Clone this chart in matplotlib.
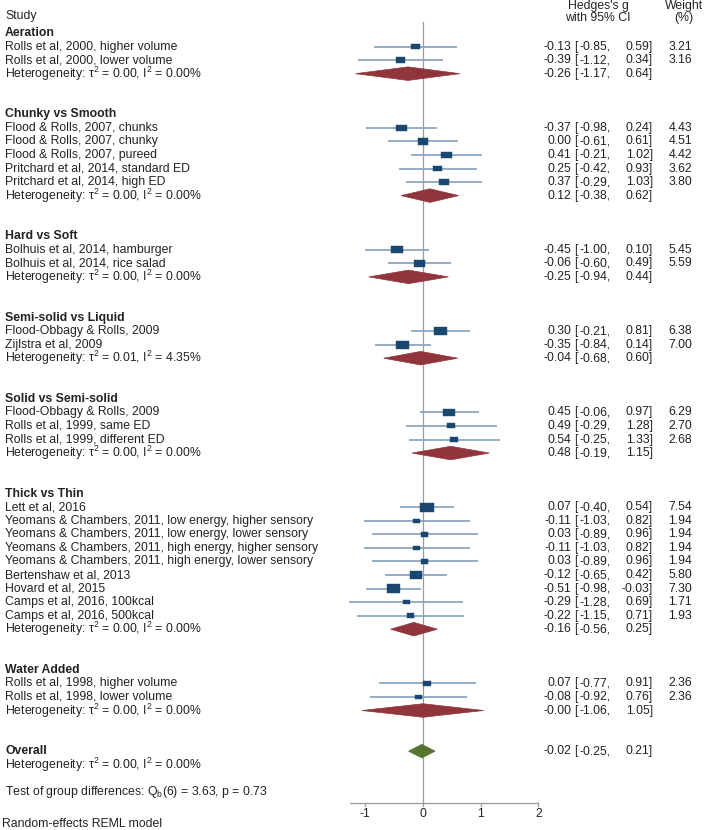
# Forest plot: Hedges's g by subgroup, random-effects REML
import matplotlib.pyplot as plt
import matplotlib.transforms as mtransforms
from matplotlib.patches import Rectangle, Polygon

plt.rcParams['font.family'] = ['Liberation Sans', 'DejaVu Sans']
plt.rcParams['mathtext.fontset'] = 'custom'
plt.rcParams['mathtext.rm'] = 'Liberation Sans'

groups = ["Aeration", "Chunky vs Smooth", "Hard vs Soft", "Semi-solid vs Liquid",
          "Solid vs Semi-solid", "Thick vs Thin", "Water Added"]

studies = [
    ["Rolls et al, 2000, higher volume", "Rolls et al, 2000, lower volume"],
    ["Flood & Rolls, 2007, chunks", "Flood & Rolls, 2007, chunky", "Flood & Rolls, 2007, pureed",
     "Pritchard et al, 2014, standard ED", "Pritchard et al, 2014, high ED"],
    ["Bolhuis et al, 2014, hamburger", "Bolhuis et al, 2014, rice salad"],
    ["Flood-Obbagy & Rolls, 2009", "Zijlstra et al, 2009"],
    ["Flood-Obbagy & Rolls, 2009", "Rolls et al, 1999, same ED", "Rolls et al, 1999, different ED"],
    ["Lett et al, 2016",
     "Yeomans & Chambers, 2011, low energy, higher sensory",
     "Yeomans & Chambers, 2011, low energy, lower sensory",
     "Yeomans & Chambers, 2011, high energy, higher sensory",
     "Yeomans & Chambers, 2011, high energy, lower sensory",
     "Bertenshaw et al, 2013", "Hovard et al, 2015",
     "Camps et al, 2016, 100kcal", "Camps et al, 2016, 500kcal"],
    ["Rolls et al, 1998, higher volume", "Rolls et al, 1998, lower volume"],
]
est = [[-0.13, -0.39], [-0.37, 0.00, 0.41, 0.25, 0.37], [-0.45, -0.06], [0.30, -0.35],
       [0.45, 0.49, 0.54], [0.07, -0.11, 0.03, -0.11, 0.03, -0.12, -0.51, -0.29, -0.22],
       [0.07, -0.08]]
lo = [[-0.85, -1.12], [-0.98, -0.61, -0.21, -0.42, -0.29], [-1.00, -0.60], [-0.21, -0.84],
      [-0.06, -0.29, -0.25], [-0.40, -1.03, -0.89, -1.03, -0.89, -0.65, -0.98, -1.28, -1.15],
      [-0.77, -0.92]]
hi = [[0.59, 0.34], [0.24, 0.61, 1.02, 0.93, 1.03], [0.10, 0.49], [0.81, 0.14],
      [0.97, 1.28, 1.33], [0.54, 0.82, 0.96, 0.82, 0.96, 0.42, -0.03, 0.69, 0.71],
      [0.91, 0.76]]
weight = [[3.21, 3.16], [4.43, 4.51, 4.42, 3.62, 3.80], [5.45, 5.59], [6.38, 7.00],
          [6.29, 2.70, 2.68], [7.54, 1.94, 1.94, 1.94, 1.94, 5.80, 7.30, 1.71, 1.93],
          [2.36, 2.36]]

grp_est = [-0.26, 0.12, -0.25, -0.04, 0.48, -0.16, -0.00]
grp_lo = [-1.17, -0.38, -0.94, -0.68, -0.19, -0.56, -1.06]
grp_hi = [0.64, 0.62, 0.44, 0.60, 1.15, 0.25, 1.05]
grp_tau2 = [0.00, 0.00, 0.00, 0.01, 0.00, 0.00, 0.00]
grp_i2 = [0.00, 0.00, 0.00, 4.35, 0.00, 0.00, 0.00]

overall = (-0.02, -0.25, 0.21)
overall_tau2, overall_i2 = 0.00, 0.00
q_b, q_df, q_p = 3.63, 6, 0.73

# colours
sq_col = "#1a476f"
ci_col = "#8ea6bf"
dia_col = "#90353b"
ov_col = "#55752f"
ref_col = "#9a9a9a"
txt_col = "#222222"

W, H = 709, 830
x0px, ppu = 423, 57.7       # pixel of g=0 and pixels per unit
y0px, ppr = 33, 13.55        # pixel of first row and pixels per row
fs = 8.8

fig = plt.figure(figsize=(W / 100, H / 100), dpi=100)
ax = fig.add_axes([0, 0, 1, 1])
ax.set_xlim(-x0px / ppu, (W - x0px) / ppu)
ax.set_ylim((H - y0px) / ppr, -y0px / ppr)
ax.axis("off")
tr = mtransforms.blended_transform_factory(ax.transAxes, ax.transData)


def px(p):
    return p / W


def row_py(p):
    return (p - y0px) / ppr


def label(r, s, bold=False):
    ax.text(px(5), r, s, ha="left", va="center", fontsize=fs, transform=tr,
            fontweight="bold" if bold else "normal", color=txt_col)


def stats_text(r, e, l, h, w=None):
    kw = dict(transform=tr, va="center", fontsize=fs, color=txt_col)
    ax.text(px(571), r, "%.2f" % e, ha="right", **kw)
    ax.text(px(574), r, "[", ha="left", **kw)
    ax.text(px(611), r, "%.2f," % l, ha="right", **kw)
    ax.text(px(653), r, "%.2f]" % h, ha="right", **kw)
    if w is not None:
        ax.text(px(692), r, "%.2f" % w, ha="right", **kw)


def diamond(r, e, l, h, col):
    hh = 0.5
    ax.add_patch(Polygon([(l, r), (e, r - hh), (h, r), (e, r + hh)], closed=True,
                         facecolor=col, edgecolor=col, lw=0.5, zorder=3))


def het(tau2, i2):
    return "Heterogeneity: \u03c4$^2$ = %.2f, I$^2$ = %.2f%%" % (tau2, i2)


# header
hk = dict(transform=tr, va="center", fontsize=fs, color=txt_col)
ax.text(px(5), row_py(16), "Study", ha="left", **hk)
ax.text(px(598), row_py(6), "Hedges's g", ha="center", **hk)
ax.text(px(598), row_py(18), "with 95% CI", ha="center", **hk)
ax.text(px(684), row_py(6), "Weight", ha="center", **hk)
ax.text(px(684), row_py(18), "(%)", ha="center", **hk)

r = 0
for g in range(len(groups)):
    label(r, groups[g], bold=True)
    r += 1
    for i in range(len(studies[g])):
        label(r, studies[g][i])
        ax.plot([lo[g][i], hi[g][i]], [r, r], color=ci_col, lw=1.3, zorder=2,
                solid_capstyle="butt")
        side = 5.0 * weight[g][i] ** 0.5
        wx = side / ppu
        wy = side * 0.62 / ppr
        ax.add_patch(Rectangle((est[g][i] - wx / 2, r - wy / 2), wx, wy,
                               facecolor=sq_col, edgecolor=sq_col, lw=0.3, zorder=3))
        stats_text(r, est[g][i], lo[g][i], hi[g][i], weight[g][i])
        r += 1
    label(r, het(grp_tau2[g], grp_i2[g]))
    diamond(r, grp_est[g], grp_lo[g], grp_hi[g], dia_col)
    stats_text(r, grp_est[g], grp_lo[g], grp_hi[g])
    r += 3

# overall
label(r, "Overall", bold=True)
diamond(r, overall[0], overall[1], overall[2], ov_col)
stats_text(r, *overall)
r += 1
label(r, het(overall_tau2, overall_i2))
r += 2
label(r, "Test of group differences: Q$_\\mathrm{b}$(%d) = %.2f, p = %.2f" % (q_df, q_b, q_p))

# reference line and axis
axis_r = row_py(803)
ax.plot([0, 0], [row_py(22), axis_r], color=ref_col, lw=0.9, zorder=1)
ax.plot([-1.27, 2.0], [axis_r, axis_r], color=ref_col, lw=0.9, zorder=1)
for t in [-1, 0, 1, 2]:
    ax.plot([t, t], [axis_r, axis_r + 0.22], color=ref_col, lw=0.9)
    ax.text(t, row_py(814), "%d" % t, ha="center", va="center", fontsize=fs, color=txt_col)

ax.text(px(2), row_py(824), "Random-effects REML model", ha="left", va="center",
        fontsize=fs, transform=tr, color=txt_col)

fig.savefig("out.png", dpi=100)
